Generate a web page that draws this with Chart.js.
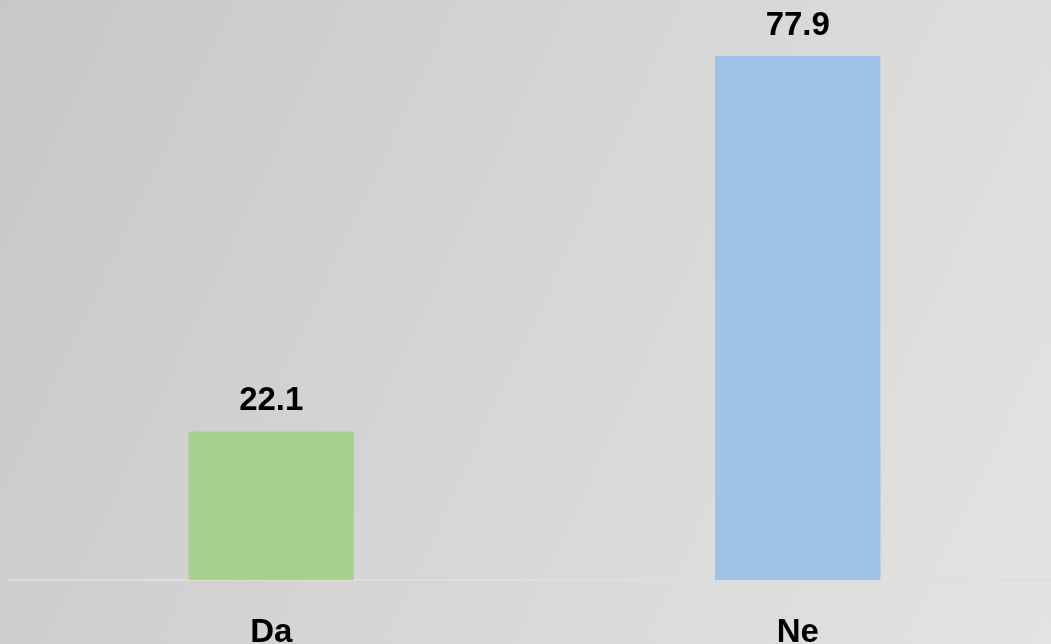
<!DOCTYPE html>
<html lang="hr">
<head>
    <meta charset="UTF-8">
    <title>Da / Ne</title>
    <script src="https://cdn.jsdelivr.net/npm/chart.js"></script>
    <style>
        html, body { margin: 0; padding: 0; overflow: hidden; width: 1051px; height: 644px; }
        body { background: linear-gradient(115deg, #c7c7c7 0%, #d6d6d6 50%, #e3e3e3 100%); }
        canvas { display: block; }
    </style>
</head>
<body>
<canvas id="barChart" width="1061" height="685"></canvas>

<script>
    // podaci
    var categories = ['Da', 'Ne'];
    var values = [22.1, 77.9];
    var barColors = ['#a9d18e', '#9dc3e6'];

    // oznake vrijednosti iznad stupaca
    var valueLabels = {
        id: 'valueLabels',
        afterDatasetsDraw: function(chart) {
            var ctx = chart.ctx;
            var meta = chart.getDatasetMeta(0);
            ctx.save();
            ctx.font = 'bold 33px "Liberation Sans", Arial, sans-serif';
            ctx.fillStyle = '#000';
            ctx.textAlign = 'center';
            ctx.textBaseline = 'alphabetic';
            meta.data.forEach(function(bar, i) {
                ctx.fillText(values[i].toFixed(1), bar.x, bar.y - 21);
            });
            ctx.restore();
        }
    };

    var ctx = document.getElementById('barChart').getContext('2d');
    var chart = new Chart(ctx, {
        type: 'bar',
        data: {
            labels: categories,
            datasets: [{
                data: values,
                backgroundColor: barColors,
                borderWidth: 0,
                categoryPercentage: 1,
                barPercentage: 0.314
            }]
        },
        options: {
            responsive: false,
            animation: false,
            layout: { padding: { left: 8, right: 0, top: 42, bottom: 0 } },
            plugins: {
                legend: { display: false },
                tooltip: { enabled: false }
            },
            scales: {
                x: {
                    grid: { display: false, drawTicks: false },
                    border: { display: true, color: '#dedede', width: 2 },
                    ticks: {
                        color: '#000',
                        padding: 36,
                        font: { family: '"Liberation Sans", Arial, sans-serif', size: 33, weight: 'bold', lineHeight: 1 }
                    }
                },
                y: {
                    display: false,
                    min: 0,
                    max: 80
                }
            }
        },
        plugins: [valueLabels]
    });
</script>
</body>
</html>
